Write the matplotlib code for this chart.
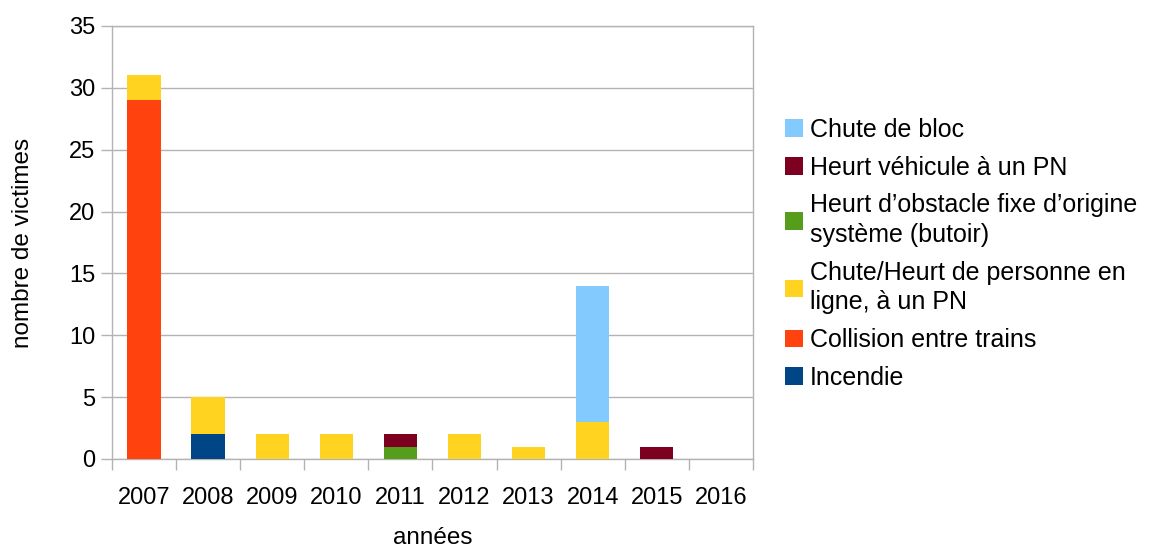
import numpy as np
import matplotlib.pyplot as plt

plt.rcParams['font.family'] = ['Liberation Sans', 'DejaVu Sans']

years = ["2007", "2008", "2009", "2010", "2011", "2012", "2013", "2014", "2015", "2016"]

# stacked bottom -> top
incendie = [0, 2, 0, 0, 0, 0, 0, 0, 0, 0]
collision = [29, 0, 0, 0, 0, 0, 0, 0, 0, 0]
chute_personne = [2, 3, 2, 2, 0, 2, 1, 3, 0, 0]
obstacle_fixe = [0, 0, 0, 0, 1, 0, 0, 0, 0, 0]
heurt_vehicule = [0, 0, 0, 0, 1, 0, 0, 0, 1, 0]
chute_bloc = [0, 0, 0, 0, 0, 0, 0, 11, 0, 0]

series = [
    ("Incendie", incendie, "#004586"),
    ("Collision entre trains", collision, "#ff420e"),
    ("Chute/Heurt de personne en\nligne, à un PN", chute_personne, "#ffd320"),
    ("Heurt d\u2019obstacle fixe d\u2019origine\nsystème (butoir)", obstacle_fixe, "#579d1c"),
    ("Heurt véhicule à un PN", heurt_vehicule, "#7e0021"),
    ("Chute de bloc", chute_bloc, "#83caff"),
]

fig = plt.figure(figsize=(11.52, 5.52), dpi=100)
ax = fig.add_axes([0.0972, 0.1685, 0.5564, 0.7844])

x = np.arange(len(years))
bottom = np.zeros(len(years))
handles = []
for name, vals, col in series:
    b = ax.bar(x, vals, width=0.52, bottom=bottom, color=col, label=name, zorder=3)
    handles.append(b)
    bottom += np.array(vals)

ax.set_xlim(-0.5, len(years) - 0.5)
ax.set_ylim(0, 35)
ax.set_yticks(range(0, 36, 5))
ax.yaxis.grid(True, color="#b3b3b3", linewidth=1, zorder=0)

ax.set_xticks(x)
ax.set_xticklabels(years)
ax.set_xticks(np.arange(-0.5, len(years)), minor=True)
ax.tick_params(axis="x", which="major", length=0, pad=20, labelsize=17)
ax.tick_params(axis="x", which="minor", length=8, color="#b3b3b3", width=1)
ax.tick_params(axis="y", length=8, color="#b3b3b3", width=1, labelsize=17, pad=4)

for s in ax.spines.values():
    s.set_color("#b3b3b3")
    s.set_linewidth(1)

ax.set_xlabel("années", fontsize=17.5, labelpad=13)
ax.set_ylabel("nombre de victimes", fontsize=17.5, labelpad=25)

leg = fig.legend(handles[::-1], [s[0] for s in series][::-1], loc="center left",
                 bbox_to_anchor=(0.662, 0.54), frameon=False, fontsize=18,
                 handlelength=0.7, handleheight=0.7, handletextpad=0.3,
                 labelspacing=0.55)
for t in leg.get_texts():
    t.set_linespacing(1.3)

fig.savefig("out.png", dpi=100)
